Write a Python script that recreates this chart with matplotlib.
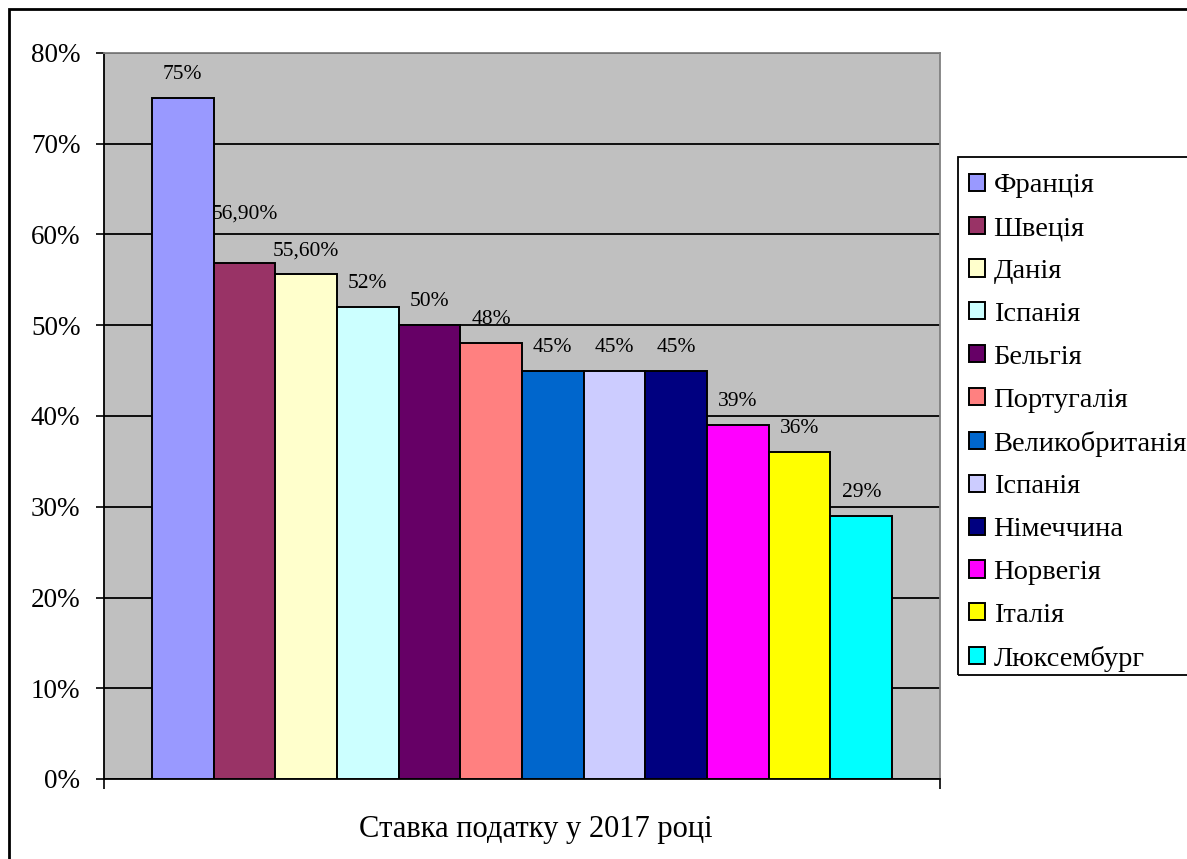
import matplotlib
matplotlib.use("Agg")
import matplotlib.pyplot as plt
from matplotlib.patches import Rectangle
from matplotlib.ticker import FuncFormatter

plt.rcParams['font.family'] = ['Liberation Serif', 'DejaVu Serif']

countries = ["Франція", "Швеція", "Данія", "Іспанія", "Бельгія", "Португалія",
             "Великобританія", "Іспанія", "Німеччина", "Норвегія", "Італія", "Люксембург"]
rates = [75, 56.9, 55.6, 52, 50, 48, 45, 45, 45, 39, 36, 29]
value_labels = ["75%", "56,90%", "55,60%", "52%", "50%", "48%", "45%", "45%", "45%",
                "39%", "36%", "29%"]
colors = ["#9999FF", "#993366", "#FFFFCC", "#CCFFFF", "#660066", "#FF8080",
          "#0066CC", "#CCCCFF", "#000080", "#FF00FF", "#FFFF00", "#00FFFF"]
yticks = [0, 10, 20, 30, 40, 50, 60, 70, 80]
x_title = "Ставка податку у 2017 році"

W, H = 1187, 859
fig = plt.figure(figsize=(W / 100, H / 100), dpi=100)
ax = fig.add_axes([104 / W, 1 - 779 / H, (940 - 104) / W, (779 - 53) / H])
ax.set_facecolor("#C0C0C0")

n = len(rates)
margin = 48 / (742 / 12)
handles = []
for i, (v, c, lab) in enumerate(zip(rates, colors, countries)):
    b = ax.bar(i, v, width=1.0, align='edge', color=c, edgecolor='black',
               linewidth=1.4, zorder=3, label=lab)
    handles.append(b)

for i, (v, t) in enumerate(zip(rates, value_labels)):
    off = 35 if i == 1 else 17
    ax.annotate(t, (i + 0.5, v), xytext=(0, off), textcoords='offset points',
                ha='center', va='center', fontsize=15.5, zorder=5)

ax.set_xlim(-margin, n + margin)
ax.set_ylim(0, 80)
ax.set_yticks(yticks)
ax.yaxis.set_major_formatter(FuncFormatter(lambda v, p: f"{int(v)}%"))
ax.tick_params(axis='y', labelsize=19.5, length=6, width=1.2, pad=11, direction='out')
ax.set_xticks([-margin, n + margin])
ax.set_xticklabels([])
ax.tick_params(axis='x', length=7, width=1.2, direction='out')
ax.yaxis.grid(True, color='black', linewidth=1.3, zorder=0)
ax.set_axisbelow(True)
for s in ['left', 'bottom']:
    ax.spines[s].set_color('black')
    ax.spines[s].set_linewidth(1.3)
for s in ['top', 'right']:
    ax.spines[s].set_color('#808080')
    ax.spines[s].set_linewidth(1.3)

fig.text(536 / W, 1 - 829 / H, x_title, ha='center', va='center', fontsize=22)

leg = fig.legend(handles=handles, labels=countries, loc='upper left',
                 bbox_to_anchor=(958 / W, 1 - 162 / H), fontsize=20.5,
                 frameon=False,
                 handlelength=0.55, handleheight=0.55, handletextpad=0.3,
                 labelspacing=0.627, borderpad=0.4, borderaxespad=0)

legbox = Rectangle((958 / W, 1 - 675 / H), 0.3, (675 - 157) / H,
                   transform=fig.transFigure, fill=False, edgecolor='black',
                   linewidth=1.3, zorder=9)
fig.patches.append(legbox)

frame = Rectangle((9 / W, -0.1), 1.2, 1 - 9 / H + 0.1, transform=fig.transFigure,
                  fill=False, edgecolor='black', linewidth=2, zorder=10)
fig.patches.append(frame)

fig.savefig("out.png", dpi=100)
